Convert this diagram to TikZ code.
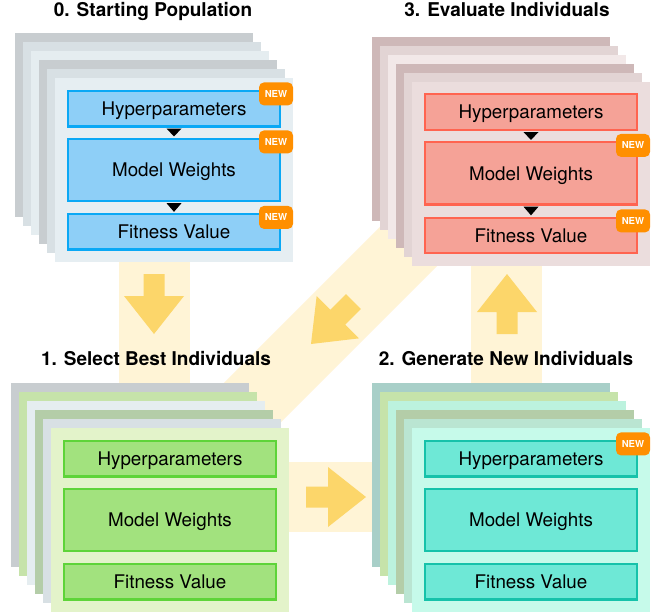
\documentclass[tikz,border=0pt]{standalone}
\usepackage{fontspec}
\setmainfont{TeX Gyre Heros}
\usetikzlibrary{calc}
% panel 0 (blue)
\definecolor{Al1}{HTML}{C8CDD0}\definecolor{Al2}{HTML}{D8E0E4}\definecolor{Al3}{HTML}{E5EDF0}
\definecolor{Al4}{HTML}{C8CDD0}\definecolor{Al5}{HTML}{D8E0E4}\definecolor{Al6}{HTML}{E6EEF2}
\definecolor{Afill}{HTML}{8ECFF7}\definecolor{Adraw}{HTML}{0AA8F5}
% panel 3 (red)
\definecolor{Dl1}{HTML}{CEB8B8}\definecolor{Dl2}{HTML}{E2D4D4}\definecolor{Dl3}{HTML}{F2E8E8}
\definecolor{Dl4}{HTML}{CEB8B8}\definecolor{Dl5}{HTML}{E2D4D4}\definecolor{Dl6}{HTML}{EBDDDD}
\definecolor{Dfill}{HTML}{F5A297}\definecolor{Ddraw}{HTML}{FF6450}
% panel 1 (green)
\definecolor{Bl1}{HTML}{C8CDD0}\definecolor{Bl2}{HTML}{C6E3AA}\definecolor{Bl3}{HTML}{E5EDF0}
\definecolor{Bl4}{HTML}{B4CDA8}\definecolor{Bl5}{HTML}{D8E0E4}\definecolor{Bl6}{HTML}{E3F3CA}
\definecolor{Bfill}{HTML}{A2E27E}\definecolor{Bdraw}{HTML}{5ED439}
% panel 2 (teal)
\definecolor{Cl1}{HTML}{A8CFC8}\definecolor{Cl2}{HTML}{C6E3AA}\definecolor{Cl3}{HTML}{BCF2DE}
\definecolor{Cl4}{HTML}{B4CDA8}\definecolor{Cl5}{HTML}{BAE5D2}\definecolor{Cl6}{HTML}{C6FAEA}
\definecolor{Cfill}{HTML}{6EE8D6}\definecolor{Cdraw}{HTML}{16C2AA}
% misc
\definecolor{bandc}{HTML}{FFF4D6}
\definecolor{arrowc}{HTML}{FCD66A}
\definecolor{badgec}{HTML}{FF8F00}

\tikzset{
  fieldbox/.style={rectangle, line width=2.3pt, inner sep=0pt,
    minimum width=211.7pt, text height=13.5pt, text depth=0pt,
    font=\fontsize{18.8}{21}\selectfont},
  badge/.style={rectangle, rounded corners=5pt, fill=badgec, inner sep=0pt,
    minimum width=34pt, minimum height=23pt, text height=6.8pt, text depth=0pt,
    text=white, font=\fontsize{9.6}{11}\selectfont\bfseries},
  paneltitle/.style={anchor=base, inner sep=0pt, font=\fontsize{19}{22}\selectfont\bfseries},
}

% #1 id, #2 x, #3 y  (back layer origin)
\newcommand{\mkpanel}[3]{%
  \foreach \k in {1,...,6} {%
    \fill[fill=#1l\k] ({#2+8*(\k-1)},{#3+9*(\k-1)}) rectangle ++(238,184);
  }%
  \node[fieldbox, fill=#1fill, draw=#1draw, minimum height=35.7pt] (#1h) at ({#2+40+119},{#3+45+30.5}) {Hyperparameters};
  \node[fieldbox, fill=#1fill, draw=#1draw, minimum height=62.2pt] (#1m) at ({#2+40+119},{#3+45+91.75}) {Model Weights};
  \node[fieldbox, fill=#1fill, draw=#1draw, minimum height=35.2pt] (#1f) at ({#2+40+119},{#3+45+153.75}) {Fitness Value};
}
\newcommand{\flowtri}[2]{%
  \fill[black] ($(#1.south)+(-7.5,1.15)$) -- ($(#1.south)+(7.5,1.15)$) -- ($(#2.north)+(0,-1.15)$) -- cycle;
}
\newcommand{\fatarrow}[2]{%
  \fill[arrowc, shift={#1}, rotate=#2] (0,0) -- (-38,30) -- (-38,10.5) -- (-60,10.5)
    -- (-60,-10.5) -- (-38,-10.5) -- (-38,-30) -- cycle;
}

\begin{document}
\begin{tikzpicture}[x=1pt,y=-1pt]
\useasboundingbox (0,0) rectangle (657,613);
\fill[white] (0,0) rectangle (657,613);

% bands (behind panels)
\coordinate (bandA1) at (154.5,200);
\coordinate (bandA2) at (154.5,430);
\coordinate (bandB1) at (250,497);
\coordinate (bandB2) at (420,497);
\coordinate (bandC1) at (506.5,430);
\coordinate (bandC2) at (506.5,200);
\coordinate (bandD1) at (455,200);
\coordinate (bandD2) at (200,455);
\draw[bandc, line width=71pt] (bandA1) -- (bandA2);
\draw[bandc, line width=70pt] (bandB1) -- (bandB2);
\draw[bandc, line width=71pt] (bandC1) -- (bandC2);
\draw[bandc, line width=68pt] (bandD1) -- (bandD2);

% panels
\mkpanel{A}{15}{33}
\mkpanel{D}{372}{36.5}
\mkpanel{B}{11}{383}
\mkpanel{C}{372}{383}

% flow triangles
\flowtri{Ah}{Am}
\flowtri{Am}{Af}
\flowtri{Dh}{Dm}
\flowtri{Dm}{Df}

% badges
\node[badge] (nA1) at ($(Ah.north east)+(-5,4.4)$) {NEW};
\node[badge] (nA2) at ($(Am.north east)+(-5,4.4)$) {NEW};
\node[badge] (nA3) at ($(Af.north east)+(-5,4.4)$) {NEW};
\node[badge] (nD2) at ($(Dm.north east)+(-5,4.4)$) {NEW};
\node[badge] (nD3) at ($(Df.north east)+(-5,4.4)$) {NEW};
\node[badge] (nC1) at ($(Ch.north east)+(-5,4.4)$) {NEW};

% arrows
\fatarrow{(154,334)}{-90}
\fatarrow{(366,497)}{0}
\fatarrow{(507,274)}{90}
\fatarrow{(311,344)}{-135}

% titles
\node[paneltitle] (tA) at (153,16.5) {0. Starting Population};
\node[paneltitle] (tD) at (507,16.5) {3. Evaluate Individuals};
\node[paneltitle] (tB) at (156,365) {1. Select Best Individuals};
\node[paneltitle] (tC) at (506,365) {2. Generate New Individuals};
\end{tikzpicture}
\end{document}
